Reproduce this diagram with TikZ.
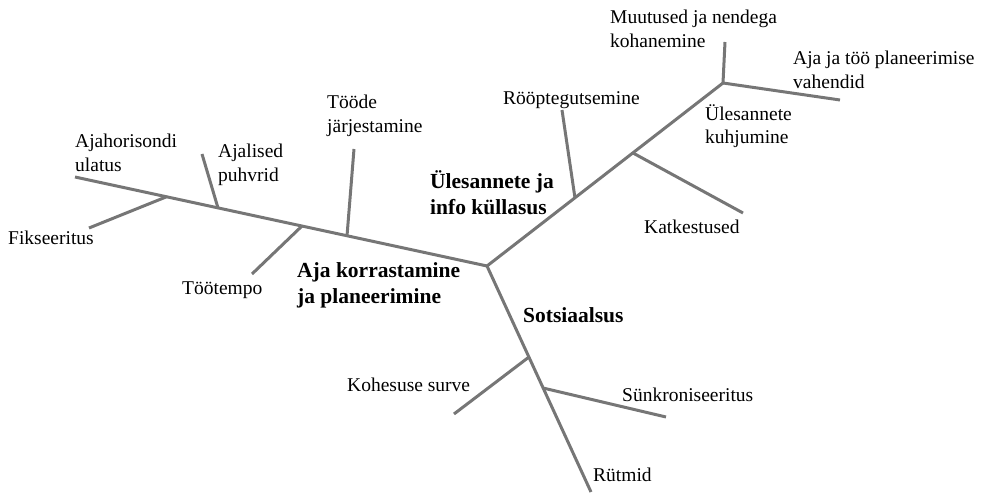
\documentclass[tikz,border=0pt]{standalone}
\usepackage{fontspec}
\setmainfont{Liberation Serif}
\definecolor{branchgray}{RGB}{118,118,118}
\begin{document}
\begin{tikzpicture}[x=1pt, y=-1pt,
        branch/.style={draw=branchgray, line width=3pt},
        txt/.style={anchor=west, align=left, inner sep=0pt, font=\fontsize{19.5}{23.5}\selectfont},
        maintxt/.style={txt, font=\fontsize{21.5}{26}\selectfont\bfseries}]
    \useasboundingbox (0,0) rectangle (986,494);

    % Junctions and ends
    \coordinate (center) at (487,266);
    \coordinate (leftend) at (75,177);
    \coordinate (j1) at (166,197);
    \coordinate (j2) at (218,208);
    \coordinate (j3) at (302,226);
    \coordinate (j4) at (347,236);
    \coordinate (fikend) at (89,228);
    \coordinate (puhvend) at (202,154);
    \coordinate (tempoend) at (252,274);
    \coordinate (jarjend) at (354,149);
    \coordinate (k1) at (575,198);
    \coordinate (k2) at (633,153);
    \coordinate (topfork) at (723,83);
    \coordinate (roopend) at (562,110);
    \coordinate (katkend) at (743,213);
    \coordinate (muutend) at (725,42);
    \coordinate (vahend) at (840,100);
    \coordinate (s1) at (529,357);
    \coordinate (s2) at (543,388);
    \coordinate (kohend) at (454,414);
    \coordinate (synkend) at (666,417);
    \coordinate (rytmend) at (591,492);

    % Main branches
    \draw[branch] (leftend) -- (center);
    \draw[branch] (center) -- (topfork);
    \draw[branch] (center) -- (rytmend);

    % Side branches
    \draw[branch] (fikend) -- (j1);
    \draw[branch] (puhvend) -- (j2);
    \draw[branch] (tempoend) -- (j3);
    \draw[branch] (jarjend) -- (j4);
    \draw[branch] (roopend) -- (k1);
    \draw[branch] (katkend) -- (k2);
    \draw[branch] (muutend) -- (topfork);
    \draw[branch] (topfork) -- (vahend);
    \draw[branch] (kohend) -- (s1);
    \draw[branch] (synkend) -- (s2);

    % Labels
    \node[txt] (horisont) at (75,153) {Ajahorisondi\\ulatus};
    \node[txt] (puhvrid) at (218,165) {Ajalised\\puhvrid};
    \node[txt] (fiks) at (8,238) {Fikseeritus};
    \node[txt] (tempo) at (182,290) {Töötempo};
    \node[txt] (jarjestamine) at (327,116) {Tööde\\järjestamine};
    \node[maintxt] (korrastamine) at (297,285) {Aja korrastamine\\ja planeerimine};
    \node[maintxt] (kyllasus) at (430,193) {Ülesannete ja\\info küllasus};
    \node[txt] (roop) at (503,100) {Rööptegutsemine};
    \node[txt] (muutused) at (610,29) {Muutused ja nendega\\kohanemine};
    \node[txt] (vahendid) at (793,70) {Aja ja töö planeerimise\\vahendid};
    \node[txt] (kuhjumine) at (705,126) {Ülesannete\\kuhjumine};
    \node[txt] (katk) at (644,227) {Katkestused};
    \node[maintxt] (sots) at (523,315) {Sotsiaalsus};
    \node[txt] (kohesus) at (347,385) {Kohesuse surve};
    \node[txt] (synk) at (622,395) {Sünkroniseeritus};
    \node[txt] (rytmid) at (593,475) {Rütmid};

\end{tikzpicture}
\end{document}
